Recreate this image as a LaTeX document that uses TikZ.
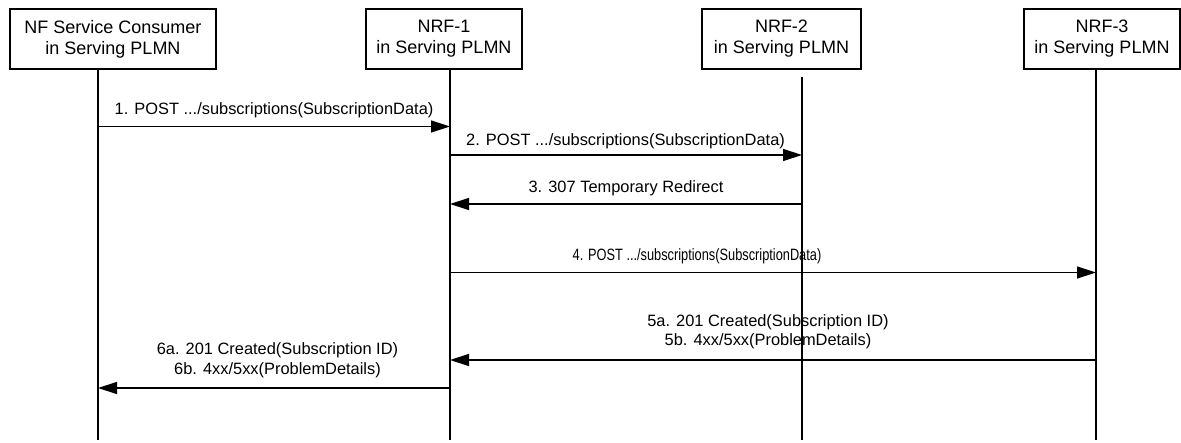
\documentclass[tikz,border=0pt]{standalone}
\usepackage{fontspec}
\setmainfont{Liberation Sans}
\usepackage{graphicx}
\usetikzlibrary{arrows.meta}
\begin{document}
\begin{tikzpicture}[x=1pt,y=-1pt,
  box/.style={draw, line width=1.3pt, inner sep=0pt, minimum height=60pt, align=center, font=\fontsize{18}{21}\selectfont},
  life/.style={line width=1.3pt},
  msg/.style={line width=1.3pt, -{Triangle[length=19pt,width=12pt]}},
  lbl/.style={font=\fontsize{16.4}{19.5}\selectfont, align=center, inner sep=0pt}]
\useasboundingbox (0,0) rectangle (1181,443);
% boxes
\node[box, minimum width=206pt] (b1) at (113,39) {NF Service Consumer\\in Serving PLMN};
\node[box, minimum width=156pt] (b2) at (444,39) {NRF-1\\in Serving PLMN};
\node[box, minimum width=159pt] (b3) at (781.5,39) {NRF-2\\in Serving PLMN};
\node[box, minimum width=156pt] (b4) at (1102,39) {NRF-3\\in Serving PLMN};
% lifelines
\coordinate (t1) at (98,69);   \coordinate (e1) at (98,440);
\coordinate (t2) at (450,69);  \coordinate (e2) at (450,440);
\coordinate (t3) at (802,77);  \coordinate (e3) at (802,440);
\coordinate (t4) at (1096,69); \coordinate (e4) at (1096,440);
\draw[life] (t1) -- (e1);
\draw[life] (t2) -- (e2);
\draw[life] (t3) -- (e3);
\draw[life] (t4) -- (e4);
% message end points
\coordinate (m1a) at (98,126.5);  \coordinate (m1b) at (450,126.5);
\coordinate (m2a) at (450,155);   \coordinate (m2b) at (802,155);
\coordinate (m3a) at (802,204);   \coordinate (m3b) at (450,204);
\coordinate (m4a) at (450,272.5); \coordinate (m4b) at (1096,272.5);
\coordinate (m5a) at (1096,360);  \coordinate (m5b) at (450,360);
\coordinate (m6a) at (450,388);   \coordinate (m6b) at (98,388);
\draw[msg] (m1a) -- (m1b);
\draw[msg] (m2a) -- (m2b);
\draw[msg] (m3a) -- (m3b);
\draw[msg] (m4a) -- (m4b);
\draw[msg] (m5a) -- (m5b);
\draw[msg] (m6a) -- (m6b);
% labels
\node[lbl] (l1) at (274,110) {1. POST .../subscriptions(SubscriptionData)};
\node[lbl] (l2) at (625.5,141) {2. POST .../subscriptions(SubscriptionData)};
\node[lbl] (l3) at (626,188) {3. 307 Temporary Redirect};
\node[lbl] (l4) at (697,256) {\scalebox{0.78}[1]{4. POST .../subscriptions(SubscriptionData)}};
\node[lbl] (l5) at (768,332) {5a. 201 Created(Subscription ID)\\5b. 4xx/5xx(ProblemDetails)};
\node[lbl] (l6) at (277.5,360.5) {6a. 201 Created(Subscription ID)\\6b. 4xx/5xx(ProblemDetails)};
\end{tikzpicture}
\end{document}
